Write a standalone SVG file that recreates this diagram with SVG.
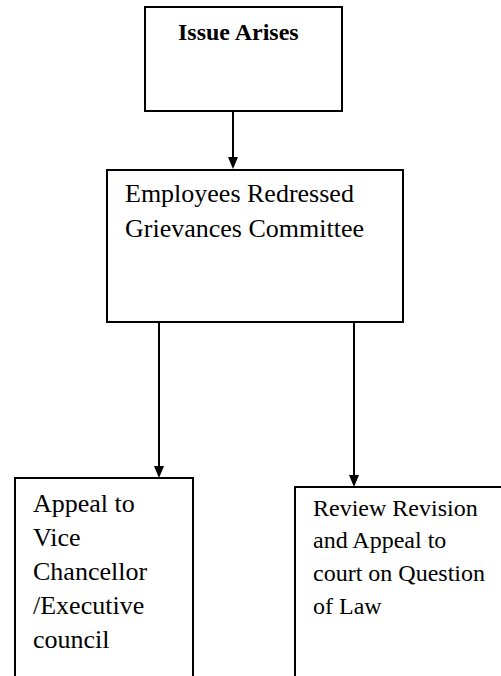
<svg xmlns="http://www.w3.org/2000/svg" width="501" height="676" viewBox="0 0 501 676">
<defs>
<style>
.box{fill:#fff;stroke:#000;stroke-width:2}
.t{font-family:'Liberation Serif','Times New Roman','DejaVu Serif',serif;font-size:24px;fill:#000}
.b{font-weight:bold}
.l{font-size:26px}
.c{stroke:#000;stroke-width:2;fill:none}
.ah{fill:#000}
</style>
</defs>
<rect width="501" height="676" fill="#fff"/>
<g id="connectors">
<line class="c" x1="233" y1="111" x2="233" y2="160"/>
<line class="c" x1="159" y1="322" x2="159" y2="468"/>
<line class="c" x1="354" y1="322" x2="354" y2="477"/>
<path class="ah" d="M228,157 L238,157 L233,169 Z"/>
<path class="ah" d="M154,466 L164,466 L159,478 Z"/>
<path class="ah" d="M349,475 L359,475 L354,487 Z"/>
</g>
<g id="issue">
<rect class="box" x="145" y="7" width="197" height="104"/>
<text class="t b" x="178" y="40" font-family="Liberation Serif, serif">Issue Arises</text>
</g>
<g id="committee">
<rect class="box" x="107" y="170" width="296" height="152"/>
<text class="t l" x="125" y="202" font-family="Liberation Serif, serif">Employees Redressed</text>
<text class="t l" x="125" y="237" font-family="Liberation Serif, serif">Grievances Committee</text>
</g>
<g id="appeal-vc">
<rect class="box" x="15" y="478" width="178" height="210"/>
<text class="t l" x="33" y="512" font-family="Liberation Serif, serif">Appeal to</text>
<text class="t l" x="33" y="546" font-family="Liberation Serif, serif">Vice</text>
<text class="t l" x="33" y="580" font-family="Liberation Serif, serif">Chancellor</text>
<text class="t l" x="33" y="614" font-family="Liberation Serif, serif">/Executive</text>
<text class="t l" x="33" y="648" font-family="Liberation Serif, serif">council</text>
</g>
<g id="review">
<rect class="box" x="295" y="487" width="220" height="210"/>
<text class="t" x="313" y="516" font-family="Liberation Serif, serif">Review Revision</text>
<text class="t" x="313" y="548" font-family="Liberation Serif, serif">and Appeal to</text>
<text class="t" x="313" y="581" font-family="Liberation Serif, serif">court on Question</text>
<text class="t" x="313" y="614" font-family="Liberation Serif, serif">of Law</text>
</g>
</svg>
